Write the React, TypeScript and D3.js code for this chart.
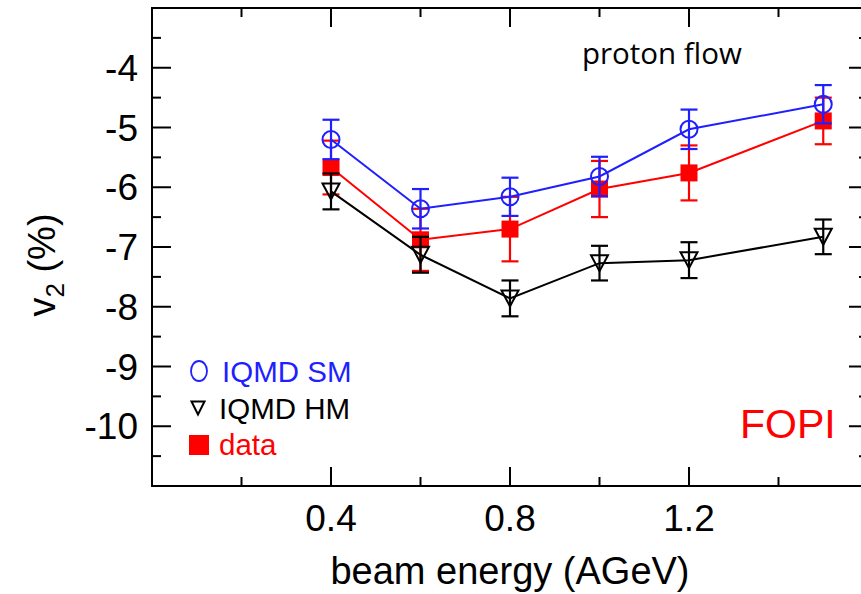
import React from "react";
import * as d3 from "d3";

const energies = [0.4, 0.6, 0.8, 1.0, 1.2, 1.5];
const smValues = [-5.2, -6.36, -6.16, -5.82, -5.03, -4.61];
const smErrors = [0.33, 0.33, 0.32, 0.33, 0.33, 0.32];
const hmValues = [-6.07, -7.13, -7.86, -7.27, -7.22, -6.83];
const hmErrors = [0.3, 0.3, 0.3, 0.29, 0.3, 0.29];
const dataValues = [-5.67, -6.88, -6.7, -6.03, -5.76, -4.89];
const dataErrors = [0.45, 0.52, 0.54, 0.47, 0.46, 0.39];

const xMajorTicks = [0.4, 0.8, 1.2];
const xMinorTicks = [0.2, 0.6, 1.0, 1.4];
const yMajorTicks = [-10, -9, -8, -7, -6, -5, -4];
const yMinorTicks = [-10.5, -9.5, -8.5, -7.5, -6.5, -5.5, -4.5, -3.5];

const W = 861;
const H = 594;
const X0 = 152, X1 = 868, Y0 = 8, Y1 = 486;
const FONT = "'Liberation Sans', Arial, Helvetica, sans-serif";
const BLUE = "#1f1fff";
const RED = "#ff0000";

export default function App() {
  const x = d3.scaleLinear().domain([0, 1.6]).range([X0, X1]);
  const y = d3.scaleLinear().domain([-11, -3]).range([Y1, Y0]);
  const line = d3
    .line<[number, number]>()
    .x((d) => x(d[0]))
    .y((d) => y(d[1]));

  const MAJ = 19, MIN = 9;

  const errBars = (vals: number[], errs: number[], color: string) =>
    energies.map((e, i) => {
      const cx = x(e);
      const yt = y(vals[i] + errs[i]);
      const yb = y(vals[i] - errs[i]);
      return (
        <g key={"e" + i} stroke={color} strokeWidth={2.2}>
          <line x1={cx} x2={cx} y1={yt} y2={yb} />
          <line x1={cx - 8.5} x2={cx + 8.5} y1={yt} y2={yt} />
          <line x1={cx - 8.5} x2={cx + 8.5} y1={yb} y2={yb} />
        </g>
      );
    });

  const series = (vals: number[]) => energies.map((e, i) => [e, vals[i]] as [number, number]);

  const tri = (cx: number, cy: number, w: number, h: number) =>
    `M${cx - w / 2},${cy - h / 2} L${cx + w / 2},${cy - h / 2} L${cx},${cy + h / 2} Z`;

  return (
    <svg
      width={W}
      height={H}
      style={{ position: "absolute", left: 0, top: 0, background: "#fff" }}
      fontFamily={FONT}
    >
      <rect x={X0} y={Y0} width={X1 - X0} height={Y1 - Y0} fill="none" stroke="#000" strokeWidth={2} />
      <g stroke="#000" strokeWidth={2}>
        {xMajorTicks.map((t) => (
          <g key={"xm" + t}>
            <line x1={x(t)} x2={x(t)} y1={Y1} y2={Y1 - MAJ} />
            <line x1={x(t)} x2={x(t)} y1={Y0} y2={Y0 + MAJ} />
          </g>
        ))}
        {xMinorTicks.map((t) => (
          <g key={"xn" + t}>
            <line x1={x(t)} x2={x(t)} y1={Y1} y2={Y1 - MIN} />
            <line x1={x(t)} x2={x(t)} y1={Y0} y2={Y0 + MIN} />
          </g>
        ))}
        {yMajorTicks.map((t) => (
          <g key={"ym" + t}>
            <line x1={X0} x2={X0 + MAJ} y1={y(t)} y2={y(t)} />
            <line x1={X1} x2={X1 - MAJ} y1={y(t)} y2={y(t)} />
          </g>
        ))}
        {yMinorTicks.map((t) => (
          <g key={"yn" + t}>
            <line x1={X0} x2={X0 + MIN} y1={y(t)} y2={y(t)} />
            <line x1={X1} x2={X1 - MIN} y1={y(t)} y2={y(t)} />
          </g>
        ))}
      </g>
      <g fontSize={37} fill="#000">
        {xMajorTicks.map((t) => (
          <text key={"xl" + t} x={x(t)} y={531} textAnchor="middle">
            {d3.format(".1f")(t)}
          </text>
        ))}
        {yMajorTicks.map((t) => (
          <text key={"yl" + t} x={138} y={y(t) + 13} textAnchor="end">
            {String(t)}
          </text>
        ))}
      </g>
      <text x={510} y={584} textAnchor="middle" fontSize={38} fill="#000">
        beam energy (AGeV)
      </text>
      <text transform="translate(55,265) rotate(-90)" textAnchor="middle" fontSize={38} fill="#000">
        v<tspan fontSize={26} dy={9}>2</tspan>
        <tspan dy={-9}> (%)</tspan>
      </text>

      <path d={line(series(dataValues)) || ""} fill="none" stroke={RED} strokeWidth={2} />
      {errBars(dataValues, dataErrors, RED)}
      {energies.map((e, i) => (
        <rect key={"ds" + i} x={x(e) - 8.5} y={y(dataValues[i]) - 8.5} width={17} height={17} fill={RED} />
      ))}

      <path d={line(series(hmValues)) || ""} fill="none" stroke="#000" strokeWidth={2} />
      {errBars(hmValues, hmErrors, "#000")}
      {energies.map((e, i) => (
        <path key={"ht" + i} d={tri(x(e), y(hmValues[i]), 17, 16)} fill="none" stroke="#000" strokeWidth={2} />
      ))}

      <path d={line(series(smValues)) || ""} fill="none" stroke={BLUE} strokeWidth={2} />
      {errBars(smValues, smErrors, BLUE)}
      {energies.map((e, i) => (
        <circle key={"sc" + i} cx={x(e)} cy={y(smValues[i])} r={8.5} fill="none" stroke={BLUE} strokeWidth={2} />
      ))}

      <text x={582} y={64} fontSize={29.5} fontFamily="'Open Sans', sans-serif" fill="#000">
        proton flow
      </text>
      <text x={740} y={438} fontSize={41} fill={RED}>
        FOPI
      </text>

      <ellipse cx={199} cy={371} rx={8} ry={10} fill="none" stroke={BLUE} strokeWidth={1.8} />
      <text x={222} y={382} fontSize={29.5} fill={BLUE}>IQMD SM</text>
      <path d={tri(198, 408, 13, 13)} fill="none" stroke="#000" strokeWidth={2} />
      <text x={219} y={419} fontSize={29.5} fill="#000">IQMD HM</text>
      <rect x={189} y={435} width={20} height={20} fill={RED} />
      <text x={219} y={455} fontSize={29.5} fill={RED}>data</text>
    </svg>
  );
}
